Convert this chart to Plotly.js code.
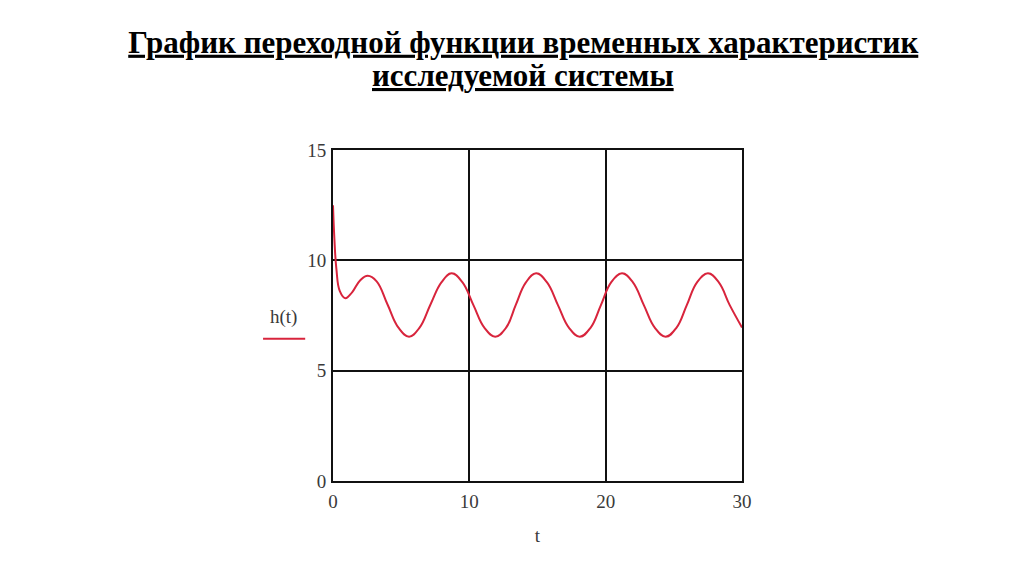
<!DOCTYPE html>
<html>
<head>
<meta charset="utf-8">
<script src="https://cdn.plot.ly/plotly-3.0.1.min.js"></script>
<style>html,body{margin:0;padding:0;background:#fff;}#chart{width:1024px;height:574px;}</style>
</head>
<body>
<div id="chart"></div>
<script>
// Time values t
var tValues = [0, 0.1, 0.25, 0.5, 0.9, 1.4, 2.0, 2.55, 3.2, 4.0, 4.8, 5.58, 6.35, 7.15, 7.95, 8.7, 9.5, 10.3, 11.1, 11.9, 12.7, 13.4, 14.15, 14.9, 15.7, 16.5, 17.3, 18.1, 18.9, 19.65, 20.4, 21.2, 22.0, 22.8, 23.6, 24.4, 25.2, 25.95, 26.7, 27.5, 28.3, 29.1, 30];
// Step response h(t)
var hValues = [12.5, 11.0, 9.6, 8.6, 8.28, 8.55, 9.1, 9.3, 9.05, 8.0, 6.95, 6.54, 6.95, 8.0, 9.0, 9.41, 9.0, 7.97, 6.95, 6.54, 6.95, 7.97, 9.0, 9.41, 9.0, 7.97, 6.95, 6.54, 6.95, 7.97, 9.0, 9.41, 9.0, 7.97, 6.95, 6.54, 6.95, 7.97, 9.0, 9.41, 9.0, 7.97, 6.96];
var xTicks = [0, 10, 20, 30];
var yTicks = [0, 5, 10, 15];
var titleLines = ["График переходной функции временных характеристик", "исследуемой системы"];
var seriesName = "h(t)";
var xLabel = "t";

var trace = {
  x: tValues, y: hValues, type: 'scatter', mode: 'lines', name: seriesName,
  line: {color: '#d8243c', width: 2, shape: 'spline', smoothing: 1.2},
  showlegend: false, hoverinfo: 'skip'
};

var serif = '"Liberation Serif", "Times New Roman", serif';
var axisFont = {family: serif, size: 19, color: '#3a3a3a'};
var titleFont = {family: serif, size: 31, color: '#000'};

var layout = {
  width: 1024, height: 574,
  paper_bgcolor: '#ffffff', plot_bgcolor: '#ffffff',
  margin: {l: 333, r: 282, t: 150, b: 93},
  title: {
    text: '<b><u>' + titleLines[0] + '</u></b>',
    font: titleFont,
    x: 0.511, xanchor: 'center', y: 0.927, yanchor: 'middle'
  },
  xaxis: {
    range: [0, 30], tickvals: xTicks, ticktext: xTicks.map(String),
    showgrid: true, gridcolor: '#111', gridwidth: 2,
    showline: true, linecolor: '#111', linewidth: 2, mirror: true,
    zeroline: false, ticks: '', tickfont: axisFont, ticklabelstandoff: 2,
    title: {text: xLabel, font: axisFont, standoff: 18}, fixedrange: true
  },
  yaxis: {
    range: [0, 15], tickvals: yTicks, ticktext: yTicks.map(String),
    showgrid: true, gridcolor: '#111', gridwidth: 2,
    showline: true, linecolor: '#111', linewidth: 2, mirror: true,
    zeroline: false, ticks: '', tickfont: axisFont, ticklabelstandoff: 1,
    fixedrange: true
  },
  annotations: [{
    xref: 'paper', yref: 'paper', x: (523 - 333) / 409, y: 1.0 + (150 - 75) / 331, xanchor: 'center', yanchor: 'middle',
    text: '<b><u>' + titleLines[1] + '</u></b>', showarrow: false, font: titleFont
  }, {
    xref: 'paper', yref: 'paper', x: -0.122, y: 0.495, xanchor: 'center', yanchor: 'middle',
    text: seriesName, showarrow: false, font: axisFont
  }],
  shapes: [{
    type: 'line', xref: 'paper', yref: 'paper', x0: -0.171, x1: -0.068, y0: 0.43, y1: 0.43,
    line: {color: '#d8243c', width: 2}
  }]
};

Plotly.newPlot('chart', [trace], layout, {staticPlot: true, displayModeBar: false});
</script>
</body>
</html>
